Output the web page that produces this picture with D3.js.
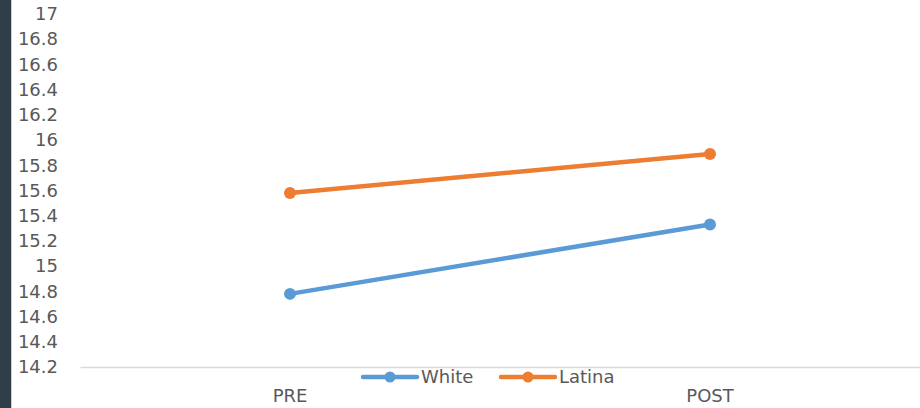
<!DOCTYPE html>
<html>
<head>
<meta charset="utf-8">
<script src="https://cdn.jsdelivr.net/npm/d3@7"></script>
<style>
  body { margin: 0; background: #fff; }
  svg text { font-family: "DejaVu Sans", sans-serif; fill: #595959; }
</style>
</head>
<body>
<svg id="chart" width="920" height="408"></svg>
<script>
const categories = ["PRE", "POST"];
const whiteValues = [14.78, 15.33];
const latinaValues = [15.58, 15.89];
const yTicks = [14.2, 14.4, 14.6, 14.8, 15, 15.2, 15.4, 15.6, 15.8, 16, 16.2, 16.4, 16.6, 16.8, 17];
const seriesNames = ["White", "Latina"];
const seriesColors = ["#5b9bd5", "#ed7d31"];

const series = [
    { name: seriesNames[0], values: whiteValues, color: seriesColors[0] },
    { name: seriesNames[1], values: latinaValues, color: seriesColors[1] }
];

const Fig = d3.select("#chart");

// dark strip on the left edge
Fig.append("rect")
    .attr("x", 0).attr("y", 0)
    .attr("width", 11).attr("height", 408)
    .attr("fill", "#2f3e48");
Fig.append("line")
    .attr("x1", 11.5).attr("x2", 11.5)
    .attr("y1", 0).attr("y2", 408)
    .attr("stroke", "#d0d0d0");

const xScale = d3.scaleBand()
    .domain(categories)
    .range([80, 920]);

const yScale = d3.scaleLinear()
    .domain([14.2, 17])
    .range([367, 14]);

const y_axis = d3.axisLeft(yScale)
    .tickValues(yTicks)
    .tickFormat(d => d3.format("")(+d.toFixed(1)))
    .tickSize(0)
    .tickPadding(4);

const gy = Fig.append("g")
    .attr("transform", "translate(62,0)")
    .call(y_axis);
gy.select(".domain").remove();
gy.selectAll("text")
    .attr("font-size", "18px")
    .attr("font-family", "DejaVu Sans")
    .attr("fill", "#595959");

const x_axis = d3.axisBottom(xScale)
    .tickSize(0)
    .tickPadding(22);

const gx = Fig.append("g")
    .attr("transform", "translate(0,367)")
    .call(x_axis);
gx.select(".domain")
    .attr("stroke", "#d9d9d9")
    .attr("stroke-width", 1.5);
gx.selectAll("text")
    .attr("font-size", "18px")
    .attr("font-family", "DejaVu Sans")
    .attr("fill", "#595959");

const line = d3.line()
    .x((d, i) => xScale(categories[i]) + xScale.bandwidth() / 2)
    .y(d => yScale(d));

series.forEach(s => {
    Fig.append("path")
        .datum(s.values)
        .attr("d", line)
        .attr("fill", "none")
        .attr("stroke", s.color)
        .attr("stroke-width", 4.5)
        .attr("stroke-linecap", "round");

    Fig.selectAll(null)
        .data(s.values)
        .join("circle")
        .attr("cx", (d, i) => xScale(categories[i]) + xScale.bandwidth() / 2)
        .attr("cy", d => yScale(d))
        .attr("r", 6)
        .attr("fill", s.color);
});

// legend
const legend = Fig.append("g")
    .attr("transform", "translate(363,377)");

const items = legend.selectAll(".legend-item")
    .data(series)
    .join("g")
    .attr("class", "legend-item")
    .attr("transform", (d, i) => `translate(${i * 138},0)`);

items.append("line")
    .attr("x1", 0).attr("x2", 54)
    .attr("y1", 0).attr("y2", 0)
    .attr("stroke", d => d.color)
    .attr("stroke-width", 4.5)
    .attr("stroke-linecap", "round");

items.append("circle")
    .attr("cx", 27).attr("cy", 0)
    .attr("r", 5.5)
    .attr("fill", d => d.color);

items.append("text")
    .attr("x", 58)
    .attr("y", 6)
    .attr("font-size", "18px")
    .text(d => d.name);
</script>
</body>
</html>
